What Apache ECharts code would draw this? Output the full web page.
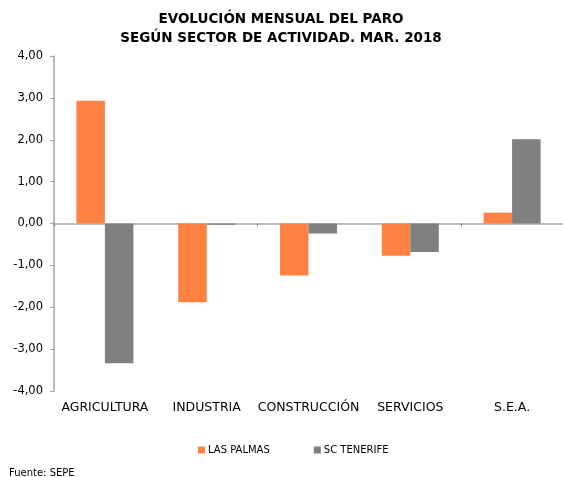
<!DOCTYPE html>
<html><head><meta charset="utf-8">
<script src="https://cdn.jsdelivr.net/npm/echarts@6/dist/echarts.min.js"></script>
<style>html,body{margin:0;padding:0;background:#fff;overflow:hidden}#c{width:563px;height:477px}</style>
</head><body><div id="c"></div>
<script>
const categories = ['AGRICULTURA', 'INDUSTRIA', 'CONSTRUCCIÓN', 'SERVICIOS', 'S.E.A.'];
const lasPalmas = [2.93, -1.88, -1.24, -0.77, 0.26];
const scTenerife = [-3.34, -0.03, -0.24, -0.68, 2.01];
const seriesNames = ['LAS PALMAS', 'SC TENERIFE'];
const yTicks = { min: -4, max: 4, interval: 1 };

const FONT = 'DejaVu Sans';
const chart = echarts.init(document.getElementById('c'));
chart.setOption({
  animation: false,
  backgroundColor: '#fff',
  title: {
    text: 'EVOLUCIÓN MENSUAL DEL PARO\nSEGÚN SECTOR DE ACTIVIDAD. MAR. 2018',
    left: 276, top: 5, textAlign: 'center',
    textStyle: { fontFamily: FONT, fontSize: 13.5, fontWeight: 'bold', color: '#000', lineHeight: 19 }
  },
  legend: {
    data: seriesNames, top: 440, left: 193, itemWidth: 7, itemHeight: 7, itemGap: 44,
    icon: 'rect',
    textStyle: { fontFamily: FONT, fontSize: 10, color: '#000', padding: [0, 0, 0, -2] }
  },
  graphic: [{
    type: 'text', left: 9, top: 468,
    style: { text: 'Fuente: SEPE', fontFamily: FONT, fontSize: 10, fill: '#000' }
  }],
  grid: { left: 54, right: -9, top: 56, bottom: 86 },
  xAxis: [{
    type: 'category', data: categories,
    axisLine: { onZero: true, lineStyle: { color: '#a6a6a6', width: 1.5 } },
    axisTick: { show: true, length: 3, lineStyle: { color: '#808080' } },
    axisLabel: { show: false }
  }, {
    type: 'category', data: categories, position: 'bottom',
    axisLine: { show: false, onZero: false }, axisTick: { show: false },
    axisLabel: { interval: 0, fontFamily: FONT, fontSize: 12.5, color: '#000', margin: 10 }
  }],
  yAxis: {
    type: 'value', min: yTicks.min, max: yTicks.max, interval: yTicks.interval,
    axisLine: { show: true, lineStyle: { color: '#a6a6a6', width: 1.5 } },
    axisTick: { show: true, length: 4, lineStyle: { color: '#a6a6a6' } },
    splitLine: { show: false },
    axisLabel: { fontFamily: FONT, fontSize: 11.5, color: '#000', margin: 11,
      formatter: v => v.toFixed(2).replace('.', ',') }
  },
  series: [{
    name: seriesNames[0], type: 'bar', data: lasPalmas, xAxisIndex: 0,
    barGap: '0%', barCategoryGap: '44%',
    itemStyle: { color: '#ff8243' }
  }, {
    name: seriesNames[1], type: 'bar', data: scTenerife, xAxisIndex: 0,
    barGap: '0%', barCategoryGap: '44%',
    itemStyle: { color: '#808080' }
  }]
});
</script></body></html>
